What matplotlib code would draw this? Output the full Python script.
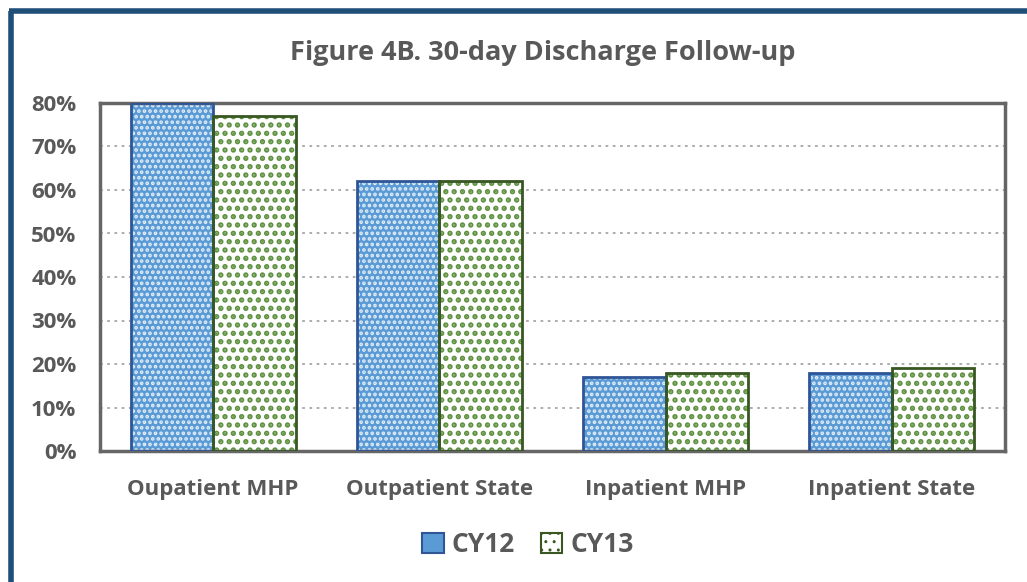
import matplotlib
matplotlib.use("Agg")
import matplotlib.pyplot as plt
import numpy as np
from matplotlib.patches import Patch

categories = ["Oupatient MHP", "Outpatient State", "Inpatient MHP", "Inpatient State"]
cy12 = [80, 62, 17, 18]
cy13 = [77, 62, 18, 19]
series_names = ["CY12", "CY13"]
yticks = [0, 10, 20, 30, 40, 50, 60, 70, 80]

plt.rcParams['font.family'] = ['Open Sans', 'DejaVu Sans']
txt = '#595959'

fig = plt.figure(figsize=(10.27, 5.82), dpi=100)
W, H = 1027, 582
ax = fig.add_axes([100 / W, 1 - 451 / H, (1005 - 100) / W, (451 - 103) / H])

x = np.arange(len(categories))
bw = 0.365
blue = '#5B9BD5'
blue_edge = '#2F5597'
green = '#548235'
green_edge = '#385723'

# fills with patterns
with plt.rc_context({'hatch.linewidth': 1.8}):
    ax.bar(x - bw / 2, cy12, bw, color=blue, edgecolor='#E2EEF9', hatch='...', linewidth=0, zorder=2)
with plt.rc_context({'hatch.linewidth': 2.6}):
    ax.bar(x + bw / 2, cy13, bw, color='white', edgecolor='#5E9140', hatch='..', linewidth=0, zorder=2)
# outlines
ax.bar(x - bw / 2, cy12, bw, fill=False, edgecolor=blue_edge, linewidth=2, zorder=3)
ax.bar(x + bw / 2, cy13, bw, fill=False, edgecolor=green_edge, linewidth=2, zorder=3)

ax.set_xlim(-0.5, len(categories) - 0.5)
ax.set_ylim(0, 80)
ax.set_yticks(yticks)
ax.set_yticklabels([f"{v}%" for v in yticks], fontsize=16, fontweight='bold', color=txt)
ax.set_xticks(x)
ax.set_xticklabels(categories, fontsize=16, fontweight='bold', color=txt)
ax.tick_params(axis='both', length=0)
ax.tick_params(axis='x', pad=20)
ax.tick_params(axis='y', pad=17)
ax.yaxis.grid(True, linestyle=(0, (1.5, 2.5)), color='#A6A6A6', linewidth=1.3, zorder=0)
ax.set_axisbelow(True)
for s in ax.spines.values():
    s.set_color('#666666')
    s.set_linewidth(2.5)

fig.text(543 / W, 1 - 53 / H, "Figure 4B. 30-day Discharge Follow-up", ha='center', va='center',
         fontsize=19.5, fontweight='bold', color=txt)

with plt.rc_context({'hatch.linewidth': 2.0}):
    handles = [Patch(facecolor=blue, edgecolor=blue_edge, linewidth=1.5),
               Patch(facecolor='white', edgecolor=green_edge, hatch='..', linewidth=1.5)]
leg = fig.legend(handles, series_names, loc='center', bbox_to_anchor=(528 / W, 1 - 545 / H),
                 ncol=2, frameon=False, fontsize=19, handlelength=0.8, handleheight=0.8,
                 columnspacing=1.0, handletextpad=0.3)
for t in leg.get_texts():
    t.set_color(txt)
    t.set_fontweight('bold')

# outer border (top and left)
fig.add_artist(plt.Line2D([11 / W, 11 / W], [0, 1 - 11 / H], transform=fig.transFigure,
                          color='#1F4E79', linewidth=4, solid_capstyle='butt'))
fig.add_artist(plt.Line2D([9 / W, 1], [1 - 11 / H, 1 - 11 / H], transform=fig.transFigure,
                          color='#1F4E79', linewidth=4, solid_capstyle='butt'))

fig.savefig("out.png", dpi=100)
